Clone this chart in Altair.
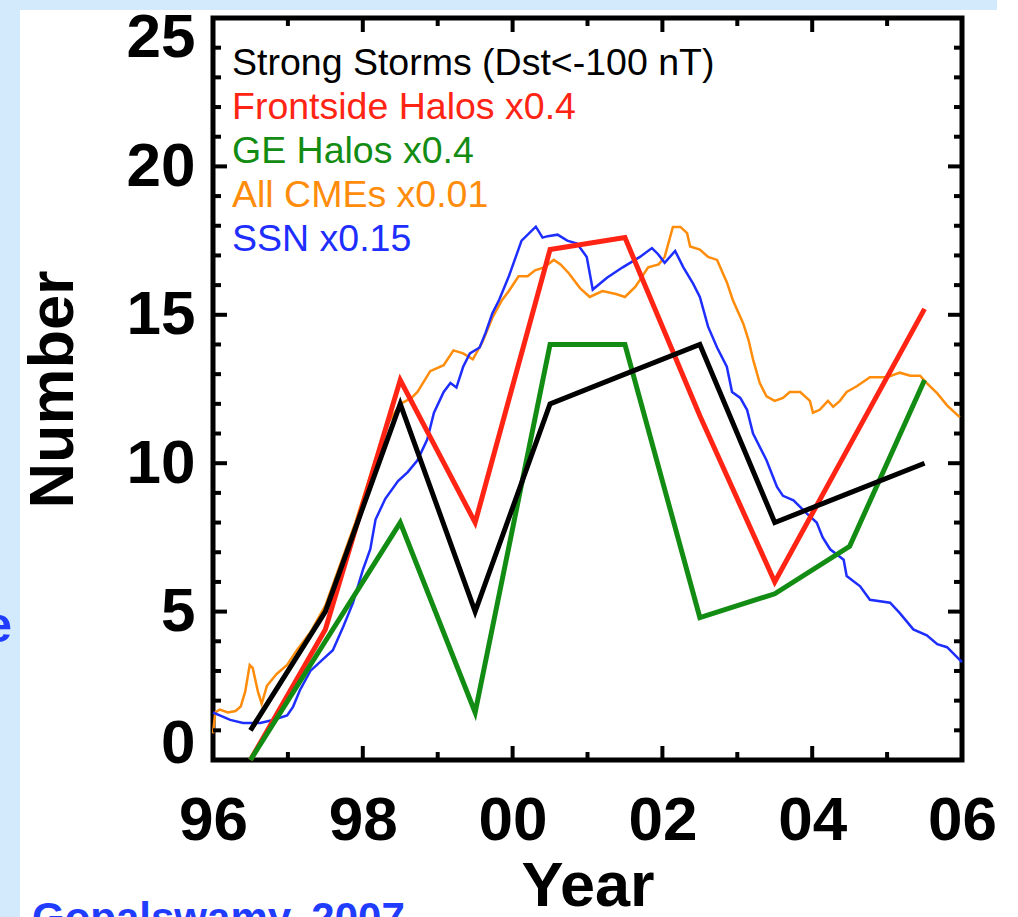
import altair as alt
import pandas as pd

# ---- annual counts, plotted at mid-year ----
event_years = [1996.5, 1997.5, 1998.5, 1999.5, 2000.5, 2001.5, 2002.5, 2003.5, 2004.5, 2005.5]
strong_storms = [1, 5, 12, 5, 12, 13, 14, 8, 9, 10]
frontside_halos = [0.0, 4.4, 12.8, 8.0, 17.2, 17.6, 11.6, 6.0, 10.6, 15.2]
ge_halos = [0.0, 4.0, 8.0, 1.6, 14.0, 14.0, 4.8, 5.6, 7.2, 12.8]

# ---- running CME rate (x0.01) ----
cme_years = [1996.00, 1996.03, 1996.09, 1996.20, 1996.30, 1996.37, 1996.43, 1996.49, 1996.53,
             1996.60, 1996.65, 1996.72, 1996.85, 1996.99, 1997.12, 1997.30, 1997.50, 1997.70,
             1997.90, 1998.10, 1998.30, 1998.50, 1998.65, 1998.73, 1998.90, 1999.08, 1999.21,
             1999.34, 1999.47, 1999.60, 1999.73, 1999.86, 1999.95, 2000.08, 2000.20, 2000.30,
             2000.42, 2000.55, 2000.64, 2000.75, 2000.90, 2001.03, 2001.20, 2001.38, 2001.50,
             2001.64, 2001.81, 2001.95, 2002.03, 2002.14, 2002.24, 2002.33, 2002.37, 2002.50,
             2002.61, 2002.73, 2002.86, 2002.94, 2003.08, 2003.15, 2003.21, 2003.30, 2003.39,
             2003.50, 2003.61, 2003.70, 2003.84, 2003.97, 2004.01, 2004.10, 2004.21, 2004.28,
             2004.37, 2004.46, 2004.60, 2004.77, 2005.00, 2005.17, 2005.31, 2005.44, 2005.53,
             2005.67, 2005.80, 2005.97]
cme_rate = [0.9, 1.6, 1.7, 1.6, 1.65, 1.8, 2.3, 3.2, 3.1,
            2.3, 1.9, 2.5, 2.9, 3.2, 3.7, 4.3, 5.2, 6.6,
            8.0, 9.6, 11.2, 12.0, 12.2, 12.4, 13.1, 13.3, 13.8,
            13.7, 13.5, 14.1, 14.9, 15.5, 15.8, 16.3, 16.3, 16.5,
            16.6, 16.85, 16.7, 16.4, 15.9, 15.6, 15.8, 15.7, 15.6,
            15.95, 16.6, 16.7, 16.95, 17.96, 17.96, 17.75, 17.3, 17.2,
            16.95, 16.85, 16.1, 15.5, 14.7, 14.15, 13.5, 12.7, 12.25,
            12.1, 12.2, 12.4, 12.4, 12.1, 11.7, 11.8, 12.1, 11.9,
            12.1, 12.4, 12.6, 12.9, 12.9, 13.05, 12.95, 12.95, 12.7,
            12.35, 11.95, 11.55]

# ---- smoothed sunspot number (x0.15) ----
ssn_years = [1996.00, 1996.09, 1996.23, 1996.40, 1996.63, 1996.80, 1996.99, 1997.07, 1997.16,
             1997.30, 1997.47, 1997.60, 1997.74, 1997.87, 1998.00, 1998.10, 1998.17, 1998.30,
             1998.47, 1998.60, 1998.73, 1998.86, 1998.95, 1999.08, 1999.17, 1999.25, 1999.34,
             1999.43, 1999.56, 1999.64, 1999.73, 1999.82, 1999.95, 2000.12, 2000.31, 2000.40,
             2000.47, 2000.60, 2000.73, 2000.86, 2000.99, 2001.07, 2001.26, 2001.47, 2001.70,
             2001.86, 2001.94, 2002.03, 2002.17, 2002.28, 2002.41, 2002.50, 2002.61, 2002.73,
             2002.86, 2002.93, 2003.04, 2003.13, 2003.21, 2003.39, 2003.53, 2003.61, 2003.75,
             2003.93, 2004.06, 2004.14, 2004.24, 2004.42, 2004.46, 2004.64, 2004.77, 2005.04,
             2005.17, 2005.35, 2005.53, 2005.67, 2005.80, 2006.00]
ssn = [1.6, 1.5, 1.35, 1.25, 1.25, 1.35, 1.5, 1.8, 2.35,
       3.0, 3.4, 3.7, 4.5, 5.3, 6.4, 7.1, 8.1, 8.8,
       9.4, 9.7, 10.1, 10.8, 11.7, 12.4, 12.7, 12.55, 13.25,
       13.7, 13.9, 14.4, 15.05, 15.5, 16.3, 17.5, 17.97, 17.6,
       17.65, 17.7, 17.5, 17.4, 16.95, 15.85, 16.25, 16.6, 16.95,
       17.25, 17.05, 16.75, 17.15, 16.6, 16.05, 15.6, 14.6, 13.9,
       13.25, 12.4, 12.2, 11.8, 11.0, 10.1, 9.2, 8.9, 8.75,
       8.3, 8.0, 7.5, 7.1, 6.75, 6.2, 5.85, 5.4, 5.3,
       4.95, 4.4, 4.2, 3.9, 3.8, 3.3]

# ---- axis ticks ----
x_major = [1996, 1998, 2000, 2002, 2004, 2006]
x_minor = [1997, 1999, 2001, 2003, 2005]
y_major = [0, 5, 10, 15, 20, 25]
y_minor = [1, 2, 3, 4, 6, 7, 8, 9, 11, 12, 13, 14, 16, 17, 18, 19, 21, 22, 23, 24]

legend_labels = ["Strong Storms (Dst<-100 nT)", "Frontside Halos x0.4", "GE Halos x0.4",
                 "All CMEs x0.01", "SSN x0.15"]

BLACK, RED, GREEN, ORANGE, BLUE = "#000000", "#ff2414", "#138c13", "#ff8c0a", "#1e2eff"
legend_colors = [BLACK, RED, GREEN, ORANGE, BLUE]
NOTE_BLUE = "#1f3cff"
PAGE_BLUE = "#d3e9fc"
FONT = "Liberation Sans"

W, H = 749, 742
PAD_L, PAD_T, PAD_R, PAD_B = 213, 18, 56, 157

xs = alt.Scale(domain=[1996, 2006], nice=False, zero=False)
ys = alt.Scale(domain=[0, 25], nice=False, zero=False)

xaxis = alt.Axis(
    values=x_major, title="Year", grid=False, ticks=False, domain=False,
    labelExpr="(datum.value % 100 < 10 ? '0' : '') + (datum.value % 100)",
    labelFont=FONT, labelFontSize=62, labelFontWeight="bold", labelColor="black",
    labelPadding=30, labelOverlap=False, labelFlush=False,
    titleFont=FONT, titleFontSize=63, titleFontWeight="bold", titleColor="black",
    titlePadding=4,
)
yaxis = alt.Axis(
    values=y_major, title="Number", grid=False, ticks=False, domain=False,
    labelFont=FONT, labelFontSize=62, labelFontWeight="bold", labelColor="black",
    labelPadding=18, labelOverlap=False, labelFlush=False,
    labelOffset={"condition": [{"test": "datum.value == 0", "value": -17},
                               {"test": "datum.value == 25", "value": 19}],
                 "value": 0},
    titleFont=FONT, titleFontSize=63, titleFontWeight="bold", titleColor="black",
    titlePadding=41,
)

dummy = pd.DataFrame({"k": [0]})


def series(years, values, color, width):
    df = pd.DataFrame({"year": years, "value": values})
    return alt.Chart(df).mark_line(color=color, strokeWidth=width).encode(
        x=alt.X("year:Q", scale=xs, axis=xaxis),
        y=alt.Y("value:Q", scale=ys, axis=yaxis),
    )


def y_ticks(vals, length, right):
    df = pd.DataFrame({"v": vals})
    x0 = W if right else 0
    x1 = W - length if right else length
    return alt.Chart(df).mark_rule(color="black", strokeWidth=4).encode(
        y=alt.Y("v:Q", scale=ys, axis=yaxis), x=alt.value(x0), x2=alt.value(x1)
    )


def x_ticks(vals, length, top):
    df = pd.DataFrame({"v": vals})
    y0 = 0 if top else H
    y1 = length if top else H - length
    return alt.Chart(df).mark_rule(color="black", strokeWidth=4).encode(
        x=alt.X("v:Q", scale=xs, axis=xaxis), y=alt.value(y0), y2=alt.value(y1)
    )


# page bands outside the plot
left_band = alt.Chart(dummy).mark_rect(color=PAGE_BLUE).encode(
    x=alt.value(-PAD_L), x2=alt.value(-PAD_L + 20),
    y=alt.value(-PAD_T), y2=alt.value(H + PAD_B),
)
top_band = alt.Chart(dummy).mark_rect(color=PAGE_BLUE).encode(
    x=alt.value(-PAD_L), x2=alt.value(997 - PAD_L),
    y=alt.value(-PAD_T), y2=alt.value(10 - PAD_T),
)

lines = [
    series(cme_years, cme_rate, ORANGE, 2.5),
    series(ssn_years, ssn, BLUE, 2.5),
    series(event_years, frontside_halos, RED, 5),
    series(event_years, ge_halos, GREEN, 5),
    series(event_years, strong_storms, BLACK, 5),
]

ticks = [
    y_ticks(y_major, 14, False), y_ticks(y_minor, 8, False),
    y_ticks(y_major, 14, True), y_ticks(y_minor, 8, True),
    x_ticks(x_major, 14, False), x_ticks(x_minor, 8, False),
    x_ticks(x_major, 14, True), x_ticks(x_minor, 8, True),
]

legend = [
    alt.Chart(dummy).mark_text(
        text=label, align="left", baseline="alphabetic", font=FONT, fontSize=37.5, color=col
    ).encode(x=alt.value(19), y=alt.value(57 + 44 * i))
    for i, (label, col) in enumerate(zip(legend_labels, legend_colors))
]

notes = [
    alt.Chart(dummy).mark_text(
        text="Gopalswamy, 2007", align="left", baseline="alphabetic", font=FONT,
        fontSize=42, fontWeight="bold", color=NOTE_BLUE,
    ).encode(x=alt.value(32 - PAD_L), y=alt.value(932 - PAD_T)),
    alt.Chart(dummy).mark_text(
        text="e", align="right", baseline="alphabetic", font=FONT,
        fontSize=50, fontWeight="bold", color=NOTE_BLUE,
    ).encode(x=alt.value(12 - PAD_L), y=alt.value(642 - PAD_T)),
]

chart = alt.layer(
    left_band, top_band, *lines, *ticks, *legend, *notes
).properties(
    width=W, height=H, background="white",
    padding={"left": PAD_L, "top": PAD_T, "right": PAD_R, "bottom": PAD_B},
    autosize=alt.AutoSizeParams(type="none"),
).configure_view(stroke="black", strokeWidth=5)

chart.save("out.html", embed_options={"renderer": "svg", "actions": False})
